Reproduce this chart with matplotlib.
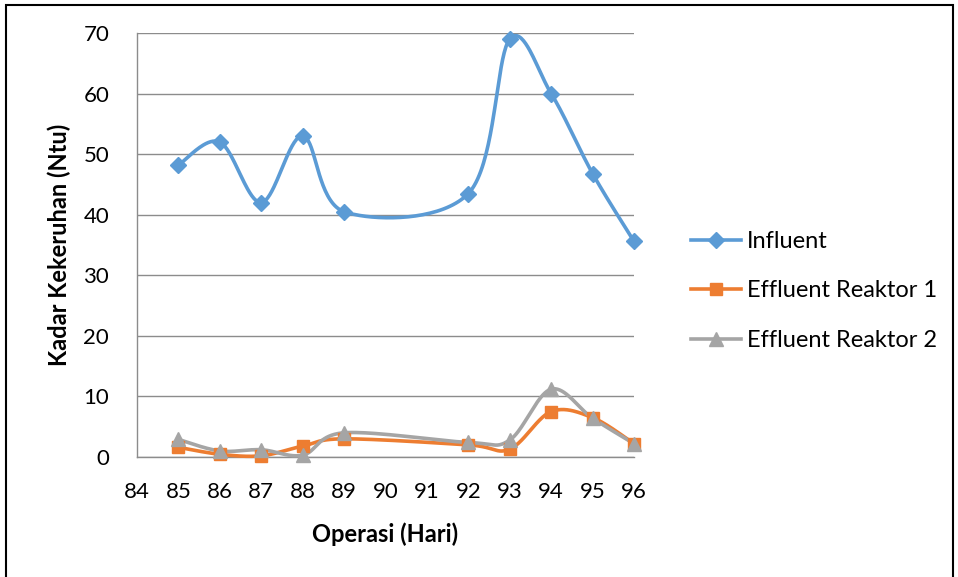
import numpy as np
import matplotlib
matplotlib.use("Agg")
import matplotlib.pyplot as plt
from matplotlib.lines import Line2D
from matplotlib.patches import Rectangle

plt.rcParams['font.family'] = ['Lato', 'DejaVu Sans']

days = [85, 86, 87, 88, 89, 92, 93, 94, 95, 96]
influent = [48.2, 52.0, 42.0, 53.0, 40.5, 43.5, 69.0, 60.0, 46.8, 35.6]
effluent1 = [1.6, 0.45, 0.2, 1.8, 3.0, 2.0, 1.3, 7.5, 6.5, 2.2]
effluent2 = [2.9, 1.0, 1.2, 0.3, 4.0, 2.4, 2.8, 11.2, 6.4, 2.2]
series_names = ["Influent", "Effluent Reaktor 1", "Effluent Reaktor 2"]
x_ticks = list(range(84, 97))
y_ticks = list(range(0, 71, 10))

colors = ["#5B9BD5", "#ED7D31", "#A5A5A5"]
markers = ["D", "s", "^"]
msizes = [8, 9, 10]


def smooth(xs, ys, n=40):
    P = np.column_stack([xs, ys]).astype(float)
    m = len(P)
    out = []
    for i in range(m - 1):
        p0 = P[i - 1] if i > 0 else P[i]
        p1 = P[i]
        p2 = P[i + 1]
        p3 = P[i + 2] if i + 2 < m else P[i + 1]
        c1 = p1 + (p2 - p0) / 6.0
        c2 = p2 - (p3 - p1) / 6.0
        t = np.linspace(0, 1, n)[:, None]
        seg = ((1 - t) ** 3) * p1 + 3 * ((1 - t) ** 2) * t * c1 + 3 * (1 - t) * t ** 2 * c2 + t ** 3 * p2
        out.append(seg if i == 0 else seg[1:])
    S = np.vstack(out)
    return S[:, 0], S[:, 1]


fig = plt.figure(figsize=(9.58, 5.77), dpi=100)
ax = fig.add_axes([137 / 958, 1 - 457 / 577, (634 - 137) / 958, (457 - 33) / 577])

for ys, c, mk, ms in zip([influent, effluent1, effluent2], colors, markers, msizes):
    sx, sy = smooth(days, ys)
    ax.plot(sx, sy, color=c, lw=2.6, solid_capstyle='round', zorder=3, clip_on=False)
    ax.plot(days, ys, linestyle='none', marker=mk, markersize=ms, color=c, zorder=4, clip_on=False)

ax.set_xlim(84, 96)
ax.set_ylim(0, 70)
ax.set_xticks(x_ticks)
ax.set_yticks(y_ticks)
ax.tick_params(axis='x', length=0, labelsize=16, pad=18)
ax.tick_params(axis='y', length=0, labelsize=16, pad=20)
ax.yaxis.grid(True, color='#8C8C8C', lw=1)
ax.set_axisbelow(True)
for s in ['top', 'right']:
    ax.spines[s].set_visible(False)
for s in ['left', 'bottom']:
    ax.spines[s].set_color('#8C8C8C')
    ax.spines[s].set_linewidth(1)

ax.set_xlabel("Operasi (Hari)", fontsize=17, fontweight='bold', labelpad=15)
ax.set_ylabel("Kadar Kekeruhan (Ntu)", fontsize=17, fontweight='bold', labelpad=9)

handles = [Line2D([0], [0], color=c, lw=2.6, marker=mk, markersize=ms)
           for c, mk, ms in zip(colors, markers, msizes)]
fig.legend(handles, series_names, loc='center left', bbox_to_anchor=(670 / 958, 1 - 291 / 577),
           frameon=False, fontsize=17, handlelength=2.1, labelspacing=1.2, handletextpad=0.26,
           borderpad=0.4)

fig.add_artist(Rectangle((6 / 958, -0.01), 947 / 958, 1 - 5 / 577 + 0.01, transform=fig.transFigure,
                         fill=False, edgecolor='black', lw=1.5))

fig.savefig("out.png", dpi=100)
